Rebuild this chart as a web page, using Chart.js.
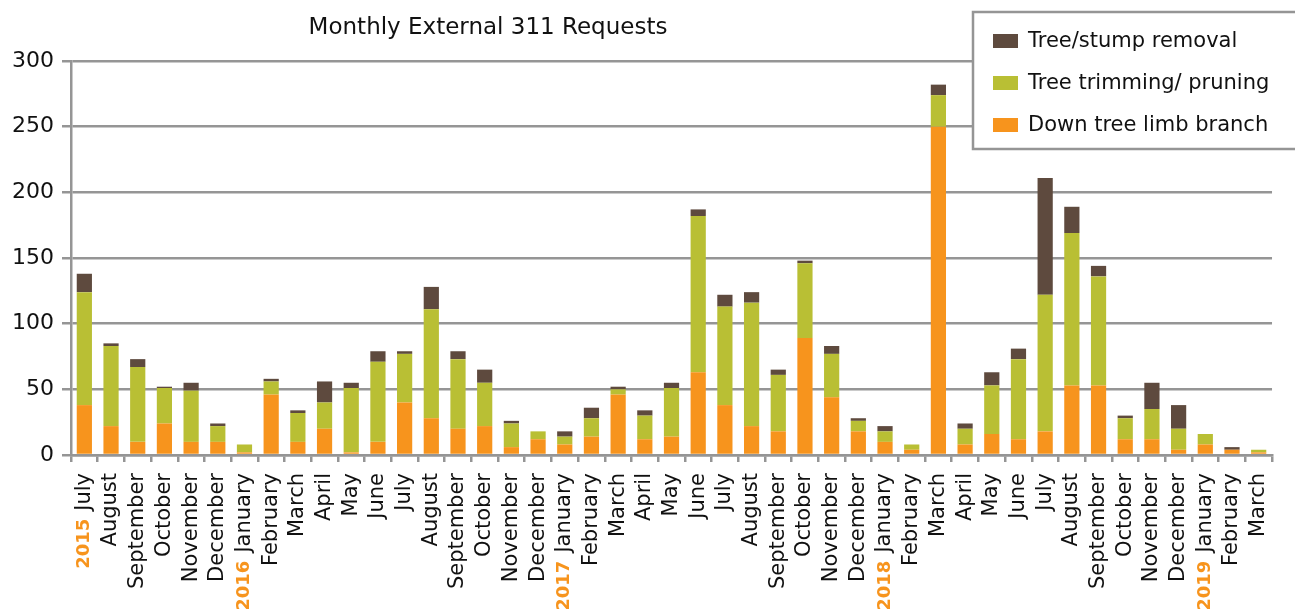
<!DOCTYPE html>
<html>
<head>
<meta charset="utf-8">
<script src="https://cdn.jsdelivr.net/npm/chart.js@4.4.1/dist/chart.umd.min.js"></script>
<style>
  html, body { margin: 0; padding: 0; background: #ffffff; }
  #wrap { position: relative; width: 1295px; height: 609px; }
</style>
</head>
<body>
<div id="wrap"><canvas id="c"></canvas></div>
<script>
const months = ['July','August','September','October','November','December',
  'January','February','March','April','May','June','July','August','September','October','November','December',
  'January','February','March','April','May','June','July','August','September','October','November','December',
  'January','February','March','April','May','June','July','August','September','October','November','December',
  'January','February','March'];
const years = ['2015','','','','','',
  '2016','','','','','','','','','','','',
  '2017','','','','','','','','','','','',
  '2018','','','','','','','','','','','',
  '2019','',''];
const downLimb = [38,22,10,24,10,10, 2,46,10,20,2,10,40,28,20,22,6,12, 8,14,46,12,14,63,38,22,18,89,44,18, 10,4,250,8,16,12,18,53,53,12,12,4, 8,4,2];
const trimming = [86,61,57,27,39,12, 6,10,22,20,49,61,37,83,53,33,18,6, 6,14,4,18,37,119,75,94,43,57,33,8, 8,4,24,12,37,61,104,116,83,16,23,16, 8,0,2];
const removal  = [14,2,6,1,6,2, 0,2,2,16,4,8,2,17,6,10,2,0, 4,8,2,4,4,5,9,8,4,2,6,2, 4,0,8,4,10,8,89,20,8,2,20,18, 0,2,0];
const seriesNames = ['Down tree limb branch','Tree trimming/ pruning','Tree/stump removal'];
const seriesColors = ['#F7941D','#B9BF34','#5E4A3E'];
const yTicks = [0,50,100,150,200,250,300];
const chartTitle = 'Monthly External 311 Requests';

const FONT = 'DejaVu Sans';
const GRID = '#959595';

const overlayPlugin = {
  id: 'overlay',
  afterDraw(chart) {
    const ctx = chart.ctx;
    const xs = chart.scales.x;
    // year prefixes on the rotated month labels
    const tickLen = xs.options.grid.tickLength;
    const pad = xs.options.ticks.padding;
    const start = xs.top + tickLen + pad;
    ctx.save();
    years.forEach((yr, i) => {
      if (!yr) return;
      ctx.font = '21px "' + FONT + '"';
      const mw = ctx.measureText(months[i]).width;
      const x = xs.getPixelForValue(i);
      ctx.save();
      ctx.translate(x, start);
      ctx.rotate(-Math.PI / 2);
      ctx.font = 'bold 18px "' + FONT + '"';
      ctx.fillStyle = '#F7941D';
      ctx.textAlign = 'right';
      ctx.textBaseline = 'middle';
      ctx.fillText(yr, -(mw + 8), 0);
      ctx.restore();
    });
    // title
    ctx.font = '23px "' + FONT + '"';
    ctx.fillStyle = '#111111';
    ctx.textAlign = 'center';
    ctx.textBaseline = 'middle';
    ctx.fillText(chartTitle, 488, 28);
    // legend box
    ctx.fillStyle = '#ffffff';
    ctx.fillRect(973, 12, 330, 137);
    ctx.strokeStyle = GRID;
    ctx.lineWidth = 2.5;
    ctx.strokeRect(973, 12, 330, 137);
    const order = [2, 1, 0];
    const rowsY = [41, 83, 125];
    order.forEach((di, r) => {
      const ds = chart.data.datasets[di];
      ctx.fillStyle = ds.backgroundColor;
      ctx.fillRect(993, rowsY[r] - 7, 25, 14);
      ctx.fillStyle = '#111111';
      ctx.font = '21px "' + FONT + '"';
      ctx.textAlign = 'left';
      ctx.textBaseline = 'middle';
      ctx.fillText(ds.label, 1028, rowsY[r] + 1);
    });
    ctx.restore();
  }
};

new Chart(document.getElementById('c'), {
  type: 'bar',
  data: {
    labels: months,
    datasets: [
      { label: seriesNames[0], data: downLimb, backgroundColor: seriesColors[0] },
      { label: seriesNames[1], data: trimming, backgroundColor: seriesColors[1] },
      { label: seriesNames[2], data: removal, backgroundColor: seriesColors[2] }
    ]
  },
  options: {
    responsive: true,
    maintainAspectRatio: false,
    animation: false,
    layout: { padding: { top: 61, right: 11, left: 0, bottom: 0 } },
    datasets: { bar: { categoryPercentage: 1.0, barPercentage: 0.57, borderWidth: 0 } },
    plugins: { legend: { display: false }, title: { display: false }, tooltip: { enabled: false } },
    scales: {
      x: {
        stacked: true,
        offset: true,
        afterFit: s => { s.height = 154; },
        grid: { display: true, drawOnChartArea: false, drawTicks: true, tickLength: 7, offset: true, color: GRID, lineWidth: 2.5 },
        border: { display: true, color: GRID, width: 2.5 },
        ticks: { autoSkip: false, maxRotation: 90, minRotation: 90, padding: 11, color: '#111111', font: { family: FONT, size: 21 } }
      },
      y: {
        stacked: true,
        min: 0, max: 300,
        afterFit: s => { s.width = 71; },
        afterBuildTicks: s => { s.ticks = yTicks.map(v => ({ value: v })); },
        grid: { color: GRID, lineWidth: 2.5, drawTicks: true, tickLength: 9 },
        border: { display: true, color: GRID, width: 2.5 },
        ticks: { padding: 8, color: '#111111', font: { family: FONT, size: 22 } }
      }
    }
  },
  plugins: [overlayPlugin]
});
</script>
</body>
</html>
